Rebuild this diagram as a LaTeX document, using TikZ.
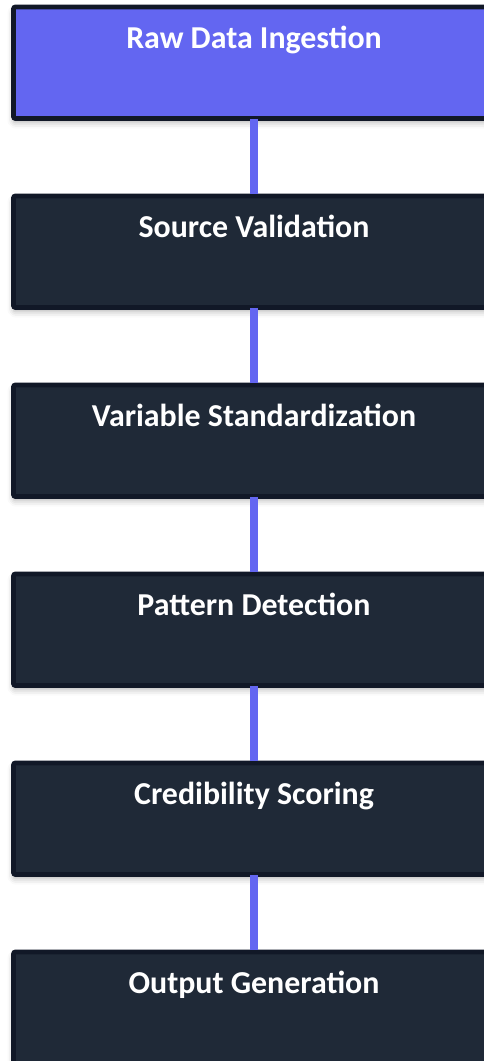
\documentclass[tikz,border=0pt]{standalone}
\usepackage{fontspec}
\setmainfont{Carlito}
\usetikzlibrary{shadows.blur}
\definecolor{stepfill}{HTML}{1F2937}
\definecolor{stepedge}{HTML}{111827}
\definecolor{accent}{HTML}{6366F1}
\tikzset{
  stage/.style={draw=stepedge, line width=4.7pt, fill=stepfill, rounded corners=2pt,
    minimum width=481pt, inner xsep=0pt, inner ysep=0pt,
    text height=41.3pt, text depth=70.3pt, text=white,
    font=\bfseries\fontsize{31.9}{36}\selectfont,
    blur shadow={shadow xshift=0pt, shadow yshift=-4pt, shadow blur radius=6pt, shadow opacity=30}},
  first/.style={fill=accent},
  link/.style={draw=accent, line width=8pt}
}
\begin{document}
\begin{tikzpicture}[x=1pt,y=1pt]
\useasboundingbox (0,0) rectangle (483,-1061);
% six stages, 189pt apart
\node[stage, first] (s1) at (254,-62.75)  {Raw Data Ingestion};
\node[stage] (s2) at (254,-251.75) {Source Validation};
\node[stage] (s3) at (254,-440.75) {Variable Standardization};
\node[stage] (s4) at (254,-629.75) {Pattern Detection};
\node[stage] (s5) at (254,-818.75) {Credibility Scoring};
\node[stage] (s6) at (254,-1007.75) {Output Generation};
% vertical links between stages
\foreach \a/\b in {s1/s2,s2/s3,s3/s4,s4/s5,s5/s6}
  \draw[link] ([yshift=2pt]\a.south) -- (\b.north);
\end{tikzpicture}
\end{document}
